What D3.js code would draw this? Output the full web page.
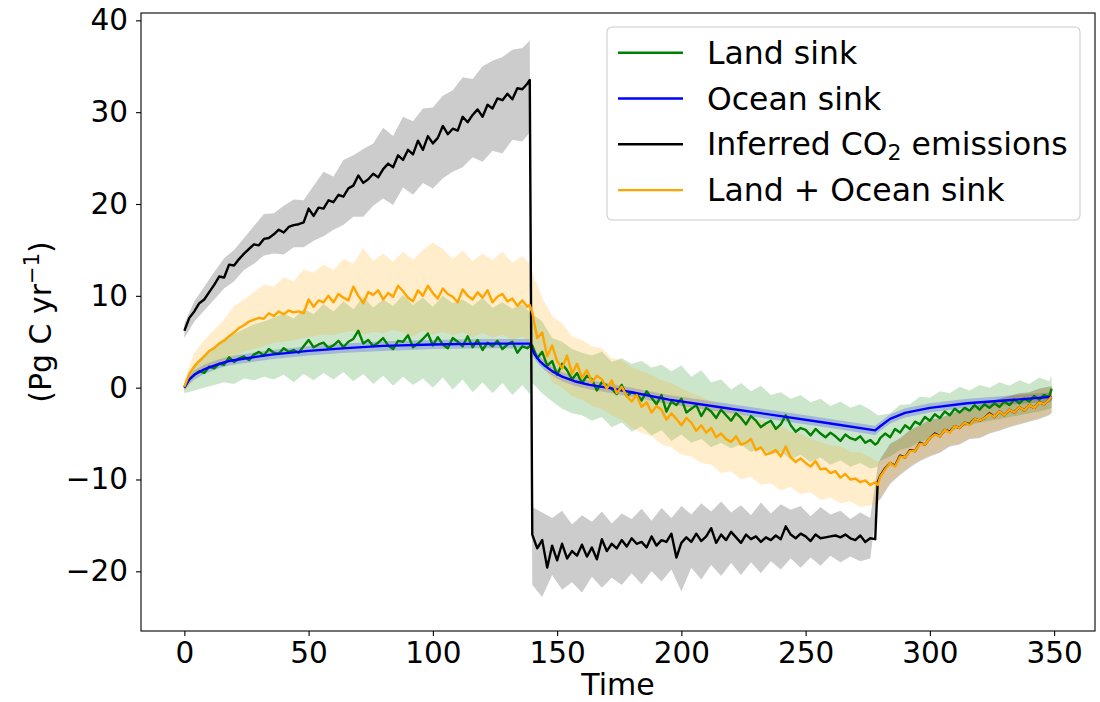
<!DOCTYPE html>
<html>
<head>
<meta charset="utf-8">
<script src="https://cdnjs.cloudflare.com/ajax/libs/d3/7.8.5/d3.min.js"></script>
<style>
body { margin: 0; background: white; }
text { font-family: "DejaVu Sans", sans-serif; }
</style>
</head>
<body>
<script>
// line values every 2 years, plus the two switch years (139 and 279)
var years = d3.range(0, 139, 2).concat([139], d3.range(140, 279, 2), [279], d3.range(280, 349, 2), [349]);
// spread of the runs, read every 4 years
var bandYears = d3.range(0, 137, 4).concat([139], d3.range(140, 277, 4), [279], d3.range(280, 349, 4), [349]);
// ocean sink is smooth, so fewer points
var oceanYears = [0, 1, 2, 4, 6, 8, 10, 14, 18, 25, 35, 50, 65, 80, 100, 120, 139, 140, 141, 143, 145, 148, 152, 157, 163, 170, 180, 195, 215, 240, 260, 278, 280, 284, 290, 300, 315, 330, 349];

var landSink = [
    0.0, 0.9, 1.4, 1.8, 1.6, 2.3, 2.1, 2.6, 2.5, 3.3, 2.8, 3.2, 3.4, 3.0, 3.6, 3.9, 3.5, 4.2, 3.8, 3.7,
    4.3, 3.9, 4.1, 3.8, 4.5, 5.2, 4.4, 4.7, 4.9, 4.3, 4.6, 5.1, 4.4, 5.0, 5.3, 6.2, 4.8, 5.2, 4.5, 4.9,
    5.4, 4.6, 4.2, 5.1, 5.0, 5.7, 4.4, 4.8, 5.3, 5.9, 4.6, 5.5, 4.7, 4.3, 5.4, 5.0, 4.5, 5.6, 4.4, 5.2,
    4.1, 4.9, 4.5, 5.1, 4.2, 4.7, 5.0, 3.8, 4.5, 4.3,
    4.5,
    4.6, 3.2, 3.9, 2.4, 2.9, 1.4, 2.6, 1.9, 0.9, 1.6, 0.5, 1.3, 0.9, -0.3, 0.6, 0.2, -0.1, -0.7, 0.3, -0.9,
    -0.5, -0.7, -1.4, -0.4, -1.1, -1.8, -0.8, -2.6, -1.5, -1.9, -1.2, -2.7, -2.3, -1.9, -3.1, -2.2, -2.6, -3.3, -2.4, -3.0,
    -3.6, -2.8, -3.3, -4.0, -3.1, -3.6, -4.3, -3.9, -3.6, -4.5, -4.0, -3.0, -4.1, -4.8, -4.4, -4.6, -5.2, -4.5, -5.0, -5.4,
    -4.9, -5.3, -5.8, -5.1, -5.5, -5.7, -5.3, -6.0, -5.7, -6.2,
    -6.0,
    -5.5, -5.0, -5.4, -4.5, -4.9, -4.1, -4.5, -3.7, -4.0, -3.2, -3.6, -2.9, -3.3, -2.6, -3.0, -2.3, -2.7, -2.2, -2.5, -1.9,
    -2.4, -1.8, -2.2, -1.7, -2.1, -1.5, -1.9, -1.3, -1.7, -1.2, -1.5, -0.9, -1.3, -0.8, -1.0,
    -0.1
];
var emissions = [
    6.2, 7.6, 8.3, 9.2, 9.6, 10.4, 11.2, 12.1, 12.0, 13.4, 13.3, 14.0, 14.6, 15.1, 15.6, 15.5, 16.2, 16.3, 16.7, 17.2,
    16.9, 17.5, 17.7, 17.8, 18.0, 19.5, 18.7, 19.6, 19.5, 20.4, 20.2, 21.0, 20.8, 21.7, 22.0, 23.1, 22.3, 22.7, 23.3, 22.9,
    23.8, 24.4, 24.0, 25.3, 24.8, 25.9, 25.4, 26.9, 25.9, 27.4, 26.6, 27.2, 28.5, 27.6, 28.2, 28.0, 29.5, 28.9, 29.7, 30.3,
    29.5, 30.8, 30.4, 31.5, 31.3, 32.0, 31.4, 32.6, 32.5, 33.1,
    33.5,
    -16.0, -17.5, -16.6, -19.6, -17.2, -18.8, -17.0, -18.6, -17.8, -18.3, -17.1, -18.4, -17.4, -18.7, -16.5, -17.8, -17.0, -17.5, -16.6, -17.3,
    -16.4, -17.0, -16.8, -17.4, -16.2, -17.2, -16.6, -16.8, -15.9, -18.5, -16.9, -16.3, -16.8, -15.9, -16.7, -16.2, -15.3, -16.9, -16.0, -16.6,
    -15.7, -16.3, -16.9, -16.0, -16.5, -16.2, -16.8, -16.3, -16.6, -16.1, -16.5, -15.1, -16.0, -16.4, -15.9, -16.2, -16.7, -16.0, -16.4, -16.3,
    -16.2, -16.1, -16.3, -16.0, -16.4, -16.6, -16.1, -16.8, -16.4, -16.5,
    -10.3,
    -9.6, -8.8, -8.2, -8.5, -7.4, -7.6, -6.8, -6.9, -6.0, -6.2, -5.5, -5.0, -5.3, -4.6, -4.8, -4.2, -4.4, -3.8, -4.0, -3.4,
    -3.6, -3.3, -2.8, -3.2, -2.6, -3.0, -2.4, -2.7, -2.1, -2.5, -1.9, -2.2, -1.6, -1.8, -1.3,
    -1.1
];
var totalSink = [
    0.1, 1.5, 2.3, 2.9, 3.4, 4.0, 4.3, 4.8, 5.1, 5.6, 6.0, 6.5, 6.8, 7.2, 7.4, 7.6, 7.5, 8.1, 7.8, 8.3,
    8.0, 8.4, 8.2, 8.3, 8.1, 9.6, 8.8, 9.5, 9.3, 10.0, 9.3, 10.2, 9.8, 9.5, 11.0, 10.0, 9.2, 10.4, 10.1, 10.6,
    9.6, 10.3, 9.9, 11.1, 10.5, 9.8, 9.4, 10.6, 10.0, 11.1, 10.3, 9.7, 10.8, 10.2, 9.9, 9.3, 10.7, 10.0, 9.6, 10.4,
    9.8, 10.6, 9.3, 9.9, 10.2, 9.4, 9.7, 8.9, 9.5, 8.8,
    9.0,
    8.2, 5.4, 6.0, 3.4, 4.6, 2.9, 2.1, 3.5, 1.5, 2.6, 1.1, 1.9, 0.6, 1.3, 0.9, -0.1, 0.8, -0.6, 0.1, -0.9,
    -1.5, -0.8, -2.1, -1.6, -2.7, -2.0, -2.4, -3.5, -2.8, -3.4, -4.1, -3.3, -3.8, -4.7, -4.1, -4.9, -4.4, -5.4, -5.0, -5.6,
    -5.9, -5.3, -6.2, -6.0, -5.6, -6.8, -6.5, -7.3, -7.1, -6.8, -7.5, -6.4, -7.6, -8.1, -7.7, -8.2, -8.6, -8.0, -8.9, -8.8,
    -9.3, -9.1, -9.8, -9.4, -10.0, -9.9, -10.3, -10.1, -10.6, -10.3,
    -10.6,
    -9.7, -8.9, -8.2, -8.6, -7.5, -7.6, -6.9, -6.9, -6.1, -6.2, -5.5, -5.1, -5.3, -4.6, -4.9, -4.2, -4.4, -3.8, -4.1, -3.4,
    -3.6, -3.3, -2.9, -3.2, -2.6, -3.0, -2.4, -2.7, -2.1, -2.5, -1.9, -2.2, -1.6, -1.8, -1.3,
    -1.0
];
var oceanSink = [0.0, 0.5, 0.9, 1.4, 1.7, 2.0, 2.2, 2.6, 2.9, 3.2, 3.6, 4.0, 4.3, 4.55, 4.7, 4.8, 4.8, 4.2, 3.6, 2.9, 2.4, 1.8, 1.2, 0.7, 0.3, 0.0, -0.5, -1.3, -2.1, -3.1, -3.9, -4.65, -4.2, -3.4, -2.75, -2.2, -1.7, -1.4, -1.0];
var oceanLo = [-0.3, 0.1, 0.4, 0.9, 1.2, 1.5, 1.7, 2.1, 2.4, 2.7, 3.1, 3.5, 3.8, 4.0, 4.2, 4.3, 4.3, 3.7, 3.1, 2.4, 1.9, 1.3, 0.7, 0.2, -0.2, -0.5, -1.0, -1.8, -2.6, -3.6, -4.4, -5.15, -4.7, -3.9, -3.25, -2.7, -2.2, -1.9, -1.5];
var oceanHi = [0.2, 0.8, 1.3, 1.9, 2.2, 2.5, 2.7, 3.1, 3.4, 3.7, 4.1, 4.5, 4.8, 5.05, 5.2, 5.3, 5.3, 4.7, 4.1, 3.4, 2.9, 2.3, 1.7, 1.2, 0.8, 0.5, 0.0, -0.8, -1.6, -2.6, -3.4, -4.15, -3.7, -2.9, -2.25, -1.7, -1.2, -0.9, -0.5];

var landLo = [
    -0.6, -0.3, 0.0, 0.3, 0.6, 0.4, 1.0, 0.8, 1.2, 0.9, 1.4, 0.6, 1.5, 0.8, 1.6, 0.9, 1.7, 0.7, 1.5, 0.4,
    1.3, 0.2, 1.2, 0.3, 1.0, 0.0, 1.1, -0.2, 0.9, -0.5, 0.6, -0.6, 0.5, -0.8, 0.3,
    -0.7,
    0.5, -0.6, -1.5, -2.3, -2.8, -3.0, -3.6, -3.2, -4.3, -3.8, -4.8, -4.2, -5.2, -4.6, -5.8, -5.1, -6.0, -5.6, -6.5, -6.0,
    -6.6, -6.2, -7.0, -6.6, -7.3, -7.0, -7.8, -7.3, -8.1, -7.6, -8.4, -7.9, -8.6, -8.2, -8.8,
    -8.6,
    -8.0, -7.5, -6.8, -6.5, -5.9, -5.6, -5.0, -4.8, -4.3, -4.1, -3.8, -3.6, -3.4, -3.2, -3.0, -2.8, -2.6, -2.3,
    -2.2
];
var landHi = [
    0.5, 2.6, 3.6, 4.5, 5.4, 5.8, 6.4, 6.9, 7.2, 7.6, 8.1, 7.5, 8.6, 8.0, 9.1, 8.3, 9.4, 8.5, 9.9, 8.7,
    9.6, 8.9, 10.1, 9.0, 9.8, 8.8, 10.0, 9.2, 9.6, 8.9, 9.8, 8.7, 9.3, 8.6, 9.1,
    8.2,
    8.0, 7.2, 5.4, 5.0, 4.2, 3.8, 3.5, 3.9, 2.8, 3.2, 2.6, 2.9, 2.2, 2.5, 1.8, 2.4, 1.2, 1.9, 0.6, 0.9,
    -0.2, 0.5, -0.4, 0.2, -0.8, -0.5, -1.2, -0.8, -1.6, -1.2, -2.0, -1.5, -2.2, -1.8, -2.4,
    -3.0,
    -3.0, -2.8, -1.9, -1.8, -1.0, -1.1, -0.4, -0.6, 0.1, -0.3, 0.3, 0.0, 0.6, 0.2, 0.8, 0.4, 1.1, 0.7,
    1.3
];
var emissionsLo = [
    5.4, 7.2, 8.4, 9.6, 10.8, 11.6, 12.8, 13.5, 14.4, 14.6, 14.5, 15.3, 15.3, 16.0, 16.5, 17.2, 17.7, 18.6, 18.6, 19.8,
    20.6, 19.9, 21.8, 21.0, 22.3, 21.7, 22.8, 23.5, 24.0, 25.1, 24.6, 25.8, 25.5, 27.0, 26.8,
    27.8,
    -21.5, -22.8, -20.4, -22.0, -21.2, -22.3, -20.6, -21.8, -20.7, -21.5, -20.2, -21.4, -20.0, -21.1, -19.8, -22.2, -19.6, -20.9, -19.3, -20.5,
    -19.1, -20.4, -19.0, -20.2, -18.9, -19.8, -18.6, -19.6, -18.5, -19.4, -18.3, -19.0, -18.4, -18.9, -18.6,
    -12.3,
    -12.2, -10.5, -9.5, -8.7, -8.0, -7.5, -7.1, -6.4, -6.2, -5.6, -5.5, -5.0, -4.7, -4.3, -4.0, -3.7, -3.4, -3.0,
    -2.8
];
var emissionsHi = [
    7.0, 9.4, 11.0, 12.6, 14.1, 15.0, 16.3, 17.6, 18.9, 19.0, 19.8, 20.5, 20.4, 22.0, 23.5, 23.0, 24.8, 25.3, 26.0, 26.6,
    28.3, 27.4, 29.5, 29.0, 30.4, 30.5, 31.8, 32.4, 33.8, 33.6, 35.0, 35.6, 36.0, 36.8, 37.0,
    37.8,
    -13.0, -13.6, -14.2, -13.4, -14.9, -13.9, -14.6, -13.5, -14.8, -13.7, -14.3, -13.2, -14.5, -13.1, -14.2, -12.9, -13.8, -12.6, -13.5, -12.4,
    -13.6, -12.8, -13.9, -12.5, -13.7, -12.7, -13.3, -12.9, -14.0, -13.0, -13.8, -13.4, -14.3, -13.6, -14.2,
    -8.6,
    -7.8, -6.1, -5.5, -4.6, -4.1, -3.5, -3.3, -2.9, -2.5, -2.3, -1.9, -1.5, -1.2, -0.9, -0.6, -0.5, -0.1, 0.1,
    0.2
];
var totalLo = [
    -0.5, 1.0, 1.8, 2.4, 2.9, 3.3, 3.9, 4.2, 4.5, 4.9, 5.0, 5.2, 5.4, 5.6, 5.8, 5.7, 6.0, 6.2, 5.8, 6.1,
    5.9, 6.3, 6.0, 5.6, 6.2, 5.8, 6.1, 5.7, 6.0, 5.5, 6.0, 5.4, 5.8, 5.2, 5.6,
    4.9,
    4.6, 2.8, 0.6, 0.0, -0.9, -1.3, -2.0, -2.3, -3.0, -3.5, -4.4, -4.9, -5.3, -6.2, -6.5, -7.3, -7.5, -8.2, -8.4, -9.3,
    -9.1, -10.0, -9.7, -10.6, -10.4, -11.2, -10.8, -11.6, -11.4, -12.2, -12.0, -12.6, -12.4, -13.0, -12.8,
    -12.9,
    -12.0, -10.3, -9.4, -8.5, -7.9, -7.4, -7.0, -6.3, -6.1, -5.5, -5.4, -4.9, -4.6, -4.2, -3.9, -3.6, -3.3, -2.9,
    -2.7
];
var totalHi = [
    0.8, 3.8, 5.2, 6.3, 7.4, 8.9, 9.6, 10.4, 11.2, 11.0, 12.0, 11.6, 12.9, 12.5, 13.4, 12.8, 14.0, 13.5, 15.2, 13.8,
    14.6, 13.7, 14.8, 13.9, 15.0, 15.8, 15.1, 14.0, 14.9, 13.8, 14.6, 13.9, 14.8, 13.6, 14.3,
    13.5,
    12.5, 9.8, 7.8, 7.0, 5.6, 5.2, 4.5, 4.3, 3.2, 3.0, 2.2, 1.8, 1.4, 0.8, 0.5, -0.1, -0.6, -1.0, -1.5, -1.9,
    -2.4, -2.6, -3.4, -3.5, -4.0, -4.2, -4.8, -5.0, -5.6, -5.9, -6.3, -6.4, -7.0, -7.1, -7.6,
    -8.1,
    -8.0, -6.3, -5.6, -4.7, -4.2, -3.6, -3.5, -3.0, -2.6, -2.4, -2.0, -1.6, -1.3, -1.0, -0.7, -0.6, -0.2, 0.0,
    0.1
];

var seriesNames = ["Land sink", "Ocean sink", "Inferred CO2 emissions", "Land + Ocean sink"];
var seriesColors = ["green", "blue", "black", "orange"];
var xTicks = [0, 50, 100, 150, 200, 250, 300, 350];
var yTicks = [-20, -10, 0, 10, 20, 30, 40];

console.log(years.length, landSink.length, emissions.length, totalSink.length);
console.log(bandYears.length, landLo.length, landHi.length, emissionsLo.length, emissionsHi.length, totalLo.length, totalHi.length);

var width = 1100, height = 702;
// (window.top is read-only, so no "top" here)
var plotLeft = 141, plotRight = 1095, plotTop = 13, plotBottom = 631;

var svg = d3.select("body")
    .append("svg")
    .attr("width", width)
    .attr("height", height)
    .style("background", "white");

var x = d3.scaleLinear().domain([-17.45, 366.45]).range([plotLeft, plotRight]);
var y = d3.scaleLinear().domain([-26.5, 40.8]).range([plotBottom, plotTop]);

svg.append("clipPath").attr("id", "plotclip")
    .append("rect")
    .attr("x", plotLeft).attr("y", plotTop)
    .attr("width", plotRight - plotLeft).attr("height", plotBottom - plotTop);

var plot = svg.append("g").attr("clip-path", "url(#plotclip)");

// bands first (matplotlib puts fill_between under the lines)
var bands = [
    {xs: bandYears, lo: landLo, hi: landHi, color: seriesColors[0]},
    {xs: oceanYears, lo: oceanLo, hi: oceanHi, color: seriesColors[1]},
    {xs: bandYears, lo: emissionsLo, hi: emissionsHi, color: seriesColors[2]},
    {xs: bandYears, lo: totalLo, hi: totalHi, color: seriesColors[3]}
];
bands.forEach(function(b) {
    var area = d3.area()
        .x(function(d, i) { return x(b.xs[i]); })
        .y0(function(d, i) { return y(b.lo[i]); })
        .y1(function(d, i) { return y(b.hi[i]); });
    plot.append("path")
        .attr("d", area(b.xs))
        .attr("fill", b.color)
        .attr("fill-opacity", 0.2)
        .attr("stroke", "none");
});

var lines = [
    {xs: years, ys: landSink, color: seriesColors[0]},
    {xs: oceanYears, ys: oceanSink, color: seriesColors[1]},
    {xs: years, ys: emissions, color: seriesColors[2]},
    {xs: years, ys: totalSink, color: seriesColors[3]}
];
lines.forEach(function(l) {
    var line = d3.line()
        .x(function(d, i) { return x(l.xs[i]); })
        .y(function(d, i) { return y(l.ys[i]); });
    plot.append("path")
        .attr("d", line(l.xs))
        .attr("fill", "none")
        .attr("stroke", l.color)
        .attr("stroke-width", 2.4)
        .attr("stroke-linejoin", "round");
});

// axes
var xAxis = svg.append("g")
    .attr("transform", "translate(0," + plotBottom + ")")
    .call(d3.axisBottom(x).tickValues(xTicks).tickSize(5).tickPadding(6));
var yAxis = svg.append("g")
    .attr("transform", "translate(" + plotLeft + ",0)")
    .call(d3.axisLeft(y).tickValues(yTicks).tickSize(5).tickPadding(8));
[xAxis, yAxis].forEach(function(ax) {
    ax.select(".domain").remove();
    ax.attr("font-family", "DejaVu Sans").attr("font-size", 29.5);
    ax.selectAll("line").attr("stroke", "black").attr("stroke-width", 1.1);
    ax.selectAll("text").attr("fill", "black");
});

svg.append("rect")
    .attr("x", plotLeft).attr("y", plotTop)
    .attr("width", plotRight - plotLeft).attr("height", plotBottom - plotTop)
    .attr("fill", "none")
    .attr("stroke", "black")
    .attr("stroke-width", 1.1);

svg.append("text")
    .attr("x", (plotLeft + plotRight) / 2)
    .attr("y", 695)
    .attr("text-anchor", "middle")
    .attr("font-size", 30)
    .text("Time");

var ylab = svg.append("text")
    .attr("transform", "translate(51," + (plotTop + plotBottom) / 2 + ") rotate(-90)")
    .attr("text-anchor", "middle")
    .attr("font-size", 30);
ylab.append("tspan").text("(Pg C yr");
ylab.append("tspan").attr("font-size", 21).attr("dy", -12).text("\u22121");
ylab.append("tspan").attr("dy", 12).text(")");

// legend
var legend = svg.append("g");
legend.append("rect")
    .attr("x", 607).attr("y", 27)
    .attr("width", 473).attr("height", 193)
    .attr("rx", 5)
    .attr("fill", "white").attr("fill-opacity", 0.8)
    .attr("stroke", "#cccccc").attr("stroke-width", 1.1);

seriesNames.forEach(function(name, i) {
    var rowY = 52.7 + i * 45.8;
    legend.append("line")
        .attr("x1", 618).attr("x2", 683)
        .attr("y1", rowY).attr("y2", rowY)
        .attr("stroke", seriesColors[i])
        .attr("stroke-width", 2.4);
    var t = legend.append("text")
        .attr("x", 707)
        .attr("y", rowY + 11)
        .attr("font-size", 31.5);
    if (name.indexOf("CO2") >= 0) {
        var parts = name.split("CO2");
        t.append("tspan").text(parts[0] + "CO");
        t.append("tspan").attr("font-size", 22).attr("dy", 5).text("2");
        t.append("tspan").attr("dy", -5).text(parts[1]);
    } else {
        t.text(name);
    }
});
</script>
</body>
</html>
